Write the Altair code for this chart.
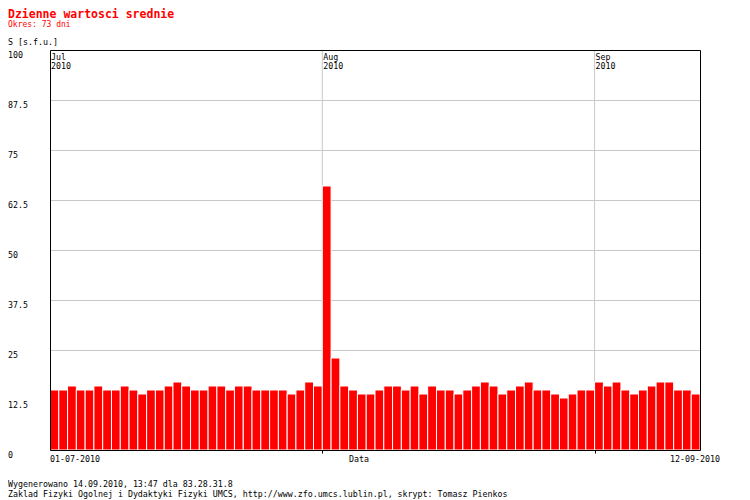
import altair as alt
import pandas as pd

# ---- data ----
values = [15, 15, 16, 15, 15, 16, 15, 15, 16, 15, 14, 15, 15, 16, 17, 16, 15, 15, 16, 16,
          15, 16, 16, 15, 15, 15, 15, 14, 15, 17, 16,
          66, 23, 16, 15, 14, 14, 15, 16, 16, 15, 16, 14, 16, 15, 15, 14, 15, 16, 17,
          16, 14, 15, 16, 17, 15, 15, 14, 13, 14, 15, 15,
          17, 16, 17, 15, 14, 15, 16, 17, 17, 15, 15, 14]
days = list(range(len(values)))

y_ticks = [0, 12.5, 25, 37.5, 50, 62.5, 75, 87.5, 100]
y_labels = ["0", "12.5", "25", "37.5", "50", "62.5", "75", "87.5", "100"]
grid_values = [12.5, 25, 37.5, 50, 62.5, 75, 87.5]

month_start = [0, 31, 62]
month_names = ["Jul", "Aug", "Sep"]
month_years = ["2010", "2010", "2010"]
month_bounds = [31, 62]

title_text = "Dzienne wartosci srednie"
subtitle_text = "Okres: 73 dni"
y_title = "S [s.f.u.]"
x_title = "Data"
first_date = "01-07-2010"
last_date = "12-09-2010"
footer1 = "Wygenerowano 14.09.2010, 13:47 dla 83.28.31.8"
footer2 = "Zaklad Fizyki Ogolnej i Dydaktyki Fizyki UMCS, http://www.zfo.umcs.lublin.pl, skrypt: Tomasz Pienkos"

FONT = "DejaVu Sans Mono"
FS = 8.3
N = len(values)
GRID = "#c8c8c8"

df = pd.DataFrame({"day": days, "day_end": [d + 1 for d in days], "value": values})

xscale = alt.Scale(domain=[0, N], nice=False, zero=False)
yscale = alt.Scale(domain=[0, 100], nice=False)

# grid lines (behind bars)
hgrid = alt.Chart(pd.DataFrame({"g": grid_values})).mark_rule(
    color=GRID, strokeWidth=1, yOffset=0.5
).encode(y=alt.Y("g:Q", scale=yscale, axis=None))
vgrid = alt.Chart(pd.DataFrame({"m": month_bounds})).mark_rule(
    color=GRID, strokeWidth=1
).encode(x=alt.X("m:Q", scale=xscale, axis=None))

bars = alt.Chart(df).mark_bar(color="#ff0000", stroke="white", strokeWidth=1).encode(
    x=alt.X("day:Q", scale=xscale, axis=None),
    x2="day_end:Q",
    y=alt.Y("value:Q", scale=yscale, axis=None),
    y2=alt.datum(0),
)

# frame: bottom/left axes (with month ticks) and top/right axes, domain lines only
frame1 = alt.Chart(df).mark_point(opacity=0).encode(
    x=alt.X("day:Q", scale=xscale,
            axis=alt.Axis(orient="bottom", values=month_bounds, grid=False, ticks=True,
                          tickSize=3, tickColor="black", tickWidth=1, labels=False,
                          domain=True, domainColor="black", domainWidth=1, title=None,
                          zindex=1)),
    y=alt.Y("value:Q", scale=yscale,
            axis=alt.Axis(orient="left", grid=False, ticks=False, labels=False,
                          domain=True, domainColor="black", domainWidth=1, title=None,
                          zindex=1)),
)
frame2 = alt.Chart(df).mark_point(opacity=0).encode(
    x=alt.X("day:Q", scale=xscale,
            axis=alt.Axis(orient="top", grid=False, ticks=False, labels=False,
                          domain=True, domainColor="black", domainWidth=1, title=None,
                          zindex=1)),
    y=alt.Y("value:Q", scale=yscale,
            axis=alt.Axis(orient="right", grid=False, ticks=False, labels=False,
                          domain=True, domainColor="black", domainWidth=1, title=None,
                          zindex=1)),
)

ylab_df = pd.DataFrame({"v": y_ticks, "t": y_labels})
ylabels = alt.Chart(ylab_df).mark_text(
    align="left", baseline="top", font=FONT, fontSize=FS, color="black", dy=1
).encode(x=alt.value(-42), y=alt.Y("v:Q", scale=yscale, axis=None), text="t:N")

mon_df = pd.DataFrame({"d": month_start,
                       "t": [m + "\n" + y for m, y in zip(month_names, month_years)]})
mlabels = alt.Chart(mon_df).mark_text(
    align="left", baseline="top", font=FONT, fontSize=FS, color="black",
    lineBreak="\n", lineHeight=9, dx=1
).encode(x=alt.X("d:Q", scale=xscale, axis=None), y=alt.value(3), text="t:N")


def txt(s, x, y, align="left", color="black", size=FS, bold=False):
    return alt.Chart(pd.DataFrame({"t": [s]})).mark_text(
        align=align, baseline="top", font=FONT, fontSize=size, color=color,
        fontWeight="bold" if bold else "normal"
    ).encode(x=alt.value(x), y=alt.value(y), text="t:N")


date_first = alt.Chart(pd.DataFrame({"d": [0], "t": [first_date]})).mark_text(
    align="left", baseline="top", font=FONT, fontSize=FS, color="black", dy=5
).encode(x=alt.X("d:Q", scale=xscale, axis=None), y=alt.value(400), text="t:N")
date_last = alt.Chart(pd.DataFrame({"d": [N], "t": [last_date]})).mark_text(
    align="right", baseline="top", font=FONT, fontSize=FS, color="black", dy=5, dx=20
).encode(x=alt.X("d:Q", scale=xscale, axis=None), y=alt.value(400), text="t:N")

layers = [
    hgrid, vgrid, bars, frame1, frame2, ylabels, mlabels, date_first, date_last,
    txt(title_text, -42, -41, color="#ff0000", size=11.5, bold=True),
    txt(subtitle_text, -42, -29, color="#ff0000", size=8),
    txt(y_title, -42, -12),
    txt(x_title, 299, 405),
    txt(footer1, -42, 430),
    txt(footer2, -42, 440),
]

chart = alt.layer(*layers).resolve_axis(x="independent", y="independent").properties(
    width=650, height=400,
    autosize=alt.AutoSizeParams(type="none"),
    padding={"left": 42, "top": 42, "right": 42, "bottom": 52},
).configure_view(strokeWidth=0).configure(background="white")

chart.save("out.html", embed_options={"renderer": "svg", "actions": False})
